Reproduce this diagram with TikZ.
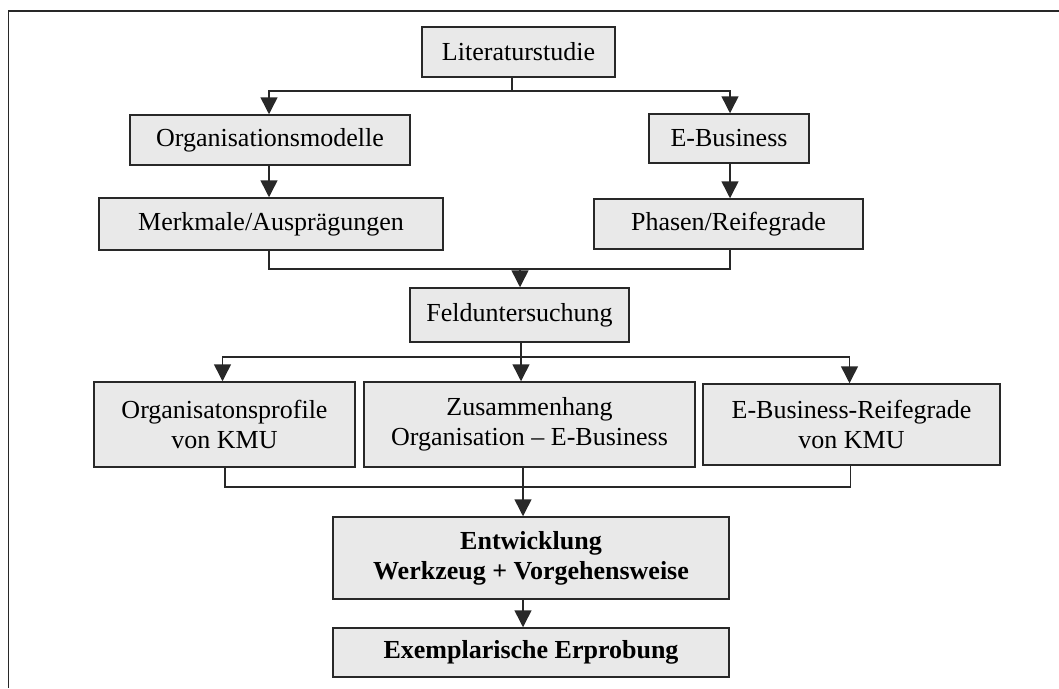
\documentclass[tikz,border=0pt]{standalone}
\usepackage{fontspec}
\setmainfont{Liberation Serif}
\usetikzlibrary{arrows.meta}
\definecolor{boxfill}{RGB}{233,233,233}
\definecolor{linec}{RGB}{40,40,40}
\tikzset{
  stepbox/.style={draw=linec, line width=1.5pt, fill=boxfill, inner sep=0pt,
    align=center, font=\fontsize{26}{30}\selectfont},
  conn/.style={draw=linec, line width=1.5pt},
  arr/.style={conn, -{Triangle[width=17pt,length=17pt]}},
}
\begin{document}
\begin{tikzpicture}[x=1pt,y=-1pt]
\useasboundingbox (0,0) rectangle (1059,688);
\draw[conn] (8.5,688) -- (8.5,11) -- (1059,11);

\node[stepbox, minimum width=193pt, minimum height=50pt] (lit) at (518.5,52) {Literaturstudie};
\node[stepbox, minimum width=280pt, minimum height=50pt] (org) at (270,140) {Organisationsmodelle};
\node[stepbox, minimum width=160pt, minimum height=49pt] (eb) at (729,138.5) {E-Business};
\node[stepbox, minimum width=344pt, minimum height=52pt] (merk) at (271,224) {Merkmale/Ausprägungen};
\node[stepbox, minimum width=269pt, minimum height=50pt] (pha) at (728.5,224) {Phasen/Reifegrade};
\node[stepbox, minimum width=219pt, minimum height=54pt] (feld) at (519.5,315) {Felduntersuchung};
\node[stepbox, minimum width=261pt, minimum height=85pt] (op) at (224.5,424.5) {Organisatonsprofile\\von KMU};
\node[stepbox, minimum width=331pt, minimum height=85pt] (zus) at (529.5,424.5) {Zusammenhang\\Organisation -- E-Business};
\node[stepbox, minimum width=297pt, minimum height=81pt] (ebr) at (851.5,424.5) {E-Business-Reifegrade\\von KMU};
\node[stepbox, minimum width=396pt, minimum height=82pt, font=\fontsize{26}{30}\selectfont\bfseries] (ent) at (531,558) {Entwicklung\\Werkzeug + Vorgehensweise};
\node[stepbox, minimum width=396pt, minimum height=49pt, font=\fontsize{26}{30}\selectfont\bfseries] (ex) at (531,652.5) {Exemplarische Erprobung};

% junctions
\coordinate (j1) at (512,91);
\coordinate (j1l) at (269,91);
\coordinate (j1r) at (730,91);
\coordinate (j2) at (520,269);
\coordinate (j2l) at (269,269);
\coordinate (j2r) at (730,269);
\coordinate (j3) at (521,357);
\coordinate (j3l) at (222.5,357);
\coordinate (j3r) at (849.5,357);
\coordinate (j4) at (523,487);
\coordinate (j4l) at (225,487);
\coordinate (j4r) at (850.5,487);

% Literaturstudie branch
\draw[conn] (j1 |- lit.south) -- (j1);
\draw[arr] (j1) -- (j1l) -- (j1l |- org.north);
\draw[arr] (j1) -- (j1r) -- (j1r |- eb.north);
\draw[arr] (j1l |- org.south) -- (j1l |- merk.north);
\draw[arr] (j1r |- eb.south) -- (j1r |- pha.north);

% merge into Felduntersuchung
\draw[conn] (j2l |- merk.south) -- (j2l) -- (j2r) -- (j2r |- pha.south);
\draw[arr] (j2) -- (j2 |- feld.north);

% Felduntersuchung branch
\draw[conn] (j3 |- feld.south) -- (j3);
\draw[arr] (j3) -- (j3l) -- (j3l |- op.north);
\draw[arr] (j3) -- (j3 |- zus.north);
\draw[arr] (j3) -- (j3r) -- (j3r |- ebr.north);

% merge into Entwicklung
\draw[conn] (j4l |- op.south) -- (j4l) -- (j4r) -- (j4r |- ebr.south);
\draw[arr] (j4 |- zus.south) -- (j4 |- ent.north);
\draw[arr] (j4 |- ent.south) -- (j4 |- ex.north);
\end{tikzpicture}
\end{document}
